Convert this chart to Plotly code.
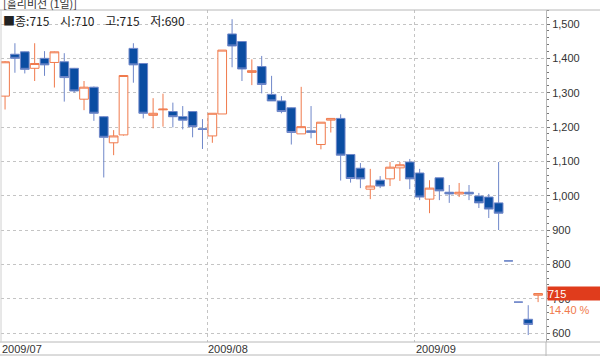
import plotly.graph_objects as go

# ---- data ----
month_labels = ["2009/07", "2009/08", "2009/09"]
month_start_idx = [0, 21, 42]

opens = [1290, 1412, 1419, 1371, 1400, 1388, 1390, 1371, 1281, 1316,
         1230, 1154, 1177, 1429, 1385, 1234, 1250, 1245, 1230, 1245,
         1195, 1174, 1238, 1471, 1449, 1359, 1376, 1295, 1276, 1256,
         1180, 1189, 1149, 1220, 1225, 1120, 1080, 1019, 1045, 1049,
         1081, 1098, 1066, 990, 1052, 1010, 1005, 1010, 999, 996,
         979, 810, 690, 640, 710]
highs = [1392, 1444, 1420, 1444, 1421, 1420, 1415, 1372, 1334, 1318,
         1232, 1191, 1350, 1444, 1386, 1284, 1297, 1271, 1261, 1246,
         1223, 1240, 1424, 1514, 1450, 1397, 1407, 1349, 1290, 1257,
         1317, 1261, 1214, 1225, 1237, 1121, 1095, 1078, 1057, 1098,
         1098, 1107, 1078, 1045, 1052, 1031, 1037, 1031, 1008, 1005,
         1098, 810, 690, 681, 715]
lows = [1251, 1358, 1356, 1334, 1349, 1315, 1274, 1300, 1249, 1218,
        1053, 1118, 1175, 1329, 1225, 1196, 1201, 1199, 1193, 1170,
        1136, 1154, 1238, 1374, 1334, 1322, 1298, 1276, 1240, 1149,
        1180, 1167, 1135, 1184, 1044, 1038, 1022, 990, 1022, 1028,
        1043, 1019, 987, 949, 987, 979, 996, 987, 964, 935,
        900, 810, 690, 594, 690]
closes = [1390, 1400, 1368, 1385, 1381, 1419, 1344, 1305, 1316, 1240,
          1170, 1174, 1350, 1381, 1240, 1240, 1252, 1230, 1220, 1201,
          1193, 1240, 1424, 1436, 1369, 1364, 1324, 1276, 1245, 1184,
          1201, 1184, 1214, 1225, 1118, 1050, 1049, 1028, 1028, 1083,
          1090, 1049, 996, 1022, 1014, 1005, 1010, 1005, 979, 961,
          949, 810, 690, 625, 715]
y_ticks = [600, 700, 800, 900, 1000, 1100, 1200, 1300, 1400, 1500]
title_text = "[홀리비전 (1일)]"

idx = list(range(len(closes)))

ORANGE = "#f07a4c"
BLUE_FILL = "#0b4da2"
BLUE_LINE = "#6f87c9"
GRID = "#c4c4c4"
FRAME = "#b8b8b8"
TXT = "#333333"
NUMFONT = "Liberation Sans, Arial, sans-serif"
KRFONT = "Noto Sans CJK KR, sans-serif"

fig = go.Figure()
fig.add_trace(go.Candlestick(
    x=idx, open=opens, high=highs, low=lows, close=closes,
    increasing=dict(line=dict(color=ORANGE, width=1), fillcolor="white"),
    decreasing=dict(line=dict(color=BLUE_LINE, width=1), fillcolor=BLUE_FILL),
    whiskerwidth=0, hoverinfo="skip", showlegend=False,
))

ML, MR, MT, MB = 1, 54, 10, 14
W, H = 600, 356
pw = W - ML - MR
ph = H - MT - MB
x0 = -0.41
x1 = 54.8

fig.update_layout(
    width=W, height=H,
    margin=dict(l=ML, r=MR, t=MT, b=MB, pad=0, autoexpand=False),
    paper_bgcolor="white", plot_bgcolor="white",
    boxgap=0.12, boxgroupgap=0,
    showlegend=False,
    hovermode=False,
    xaxis=dict(
        range=[x0, x1], rangeslider=dict(visible=False),
        tickvals=[s - 0.5 for s in month_start_idx[1:]],
        showticklabels=False, ticks="",
        showgrid=True, gridcolor=GRID, griddash="dot", gridwidth=1,
        zeroline=False, showline=False,
    ),
    yaxis=dict(
        side="right", range=[573.8, 1540.8],
        tickvals=y_ticks, tickformat=",d",
        ticks="outside", ticklen=3, tickcolor="#777",
        minor=dict(dtick=20, tick0=0, ticks="outside", ticklen=2, tickcolor="#777", showgrid=False),
        showgrid=True, gridcolor=GRID, griddash="dot", gridwidth=1,
        showline=True, linecolor=FRAME, linewidth=1,
        zeroline=False, automargin=False,
        tickfont=dict(family=NUMFONT, size=11, color=TXT),
    ),
    font=dict(family=NUMFONT, size=11, color=TXT),
)

# frame lines
xl = -ML / pw
xr = 1 + MR / pw
shapes = [
    dict(type="line", xref="paper", yref="paper", x0=xl, x1=xr, y0=1, y1=1, line=dict(color=FRAME, width=1)),
    dict(type="line", xref="paper", yref="paper", x0=xl, x1=xr, y0=0, y1=0, line=dict(color=FRAME, width=1)),
    dict(type="line", xref="paper", yref="paper", x0=xl, x1=xr, y0=-(MB - 1) / ph, y1=-(MB - 1) / ph, line=dict(color=FRAME, width=1)),
    dict(type="line", xref="paper", yref="paper", x0=1, x1=1, y0=-MB / ph, y1=0, line=dict(color=FRAME, width=1)),
    dict(type="line", xref="paper", yref="paper", x0=0, x1=0, y0=0, y1=1, line=dict(color="#d0d0d0", width=1)),
]
fig.update_layout(shapes=shapes)

ann = []
# month labels
for lab, s in zip(month_labels, month_start_idx):
    ann.append(dict(xref="x", yref="paper", x=max(s - 0.5, x0), y=-6.5 / ph, xanchor="left", yanchor="middle",
                    text=lab, showarrow=False, xshift=0, borderpad=0,
                    font=dict(family=NUMFONT, size=11, color=TXT)))
# title
ann.append(dict(xref="paper", yref="paper", x=0, y=1 + (MT - 3) / ph, xanchor="left", yanchor="middle",
                text=title_text, showarrow=False, xshift=1, borderpad=0,
                font=dict(family=KRFONT, size=11, color=TXT)))
# OHLC info
nb = "\u00a0" * 4
info = (f"■종:{closes[-1]}{nb}시:{opens[-1]}{nb}고:{highs[-1]}{nb}저:{lows[-1]}")
ann.append(dict(xref="paper", yref="paper", x=0, y=1 - 10 / ph, xanchor="left", yanchor="middle",
                text=info, showarrow=False, xshift=1, borderpad=0,
                font=dict(family=KRFONT, size=12, color="#222222")))
# last price box
ann.append(dict(xref="paper", yref="y", x=1, y=closes[-1], xanchor="left", yanchor="middle",
                text=str(closes[-1]), showarrow=False, xshift=1, width=52, height=13, align="left",
                bgcolor="#e03c1c", borderpad=0,
                font=dict(family=NUMFONT, size=11, color="white")))
pct = (closes[-1] - closes[-2]) / closes[-2] * 100
ann.append(dict(xref="paper", yref="y", x=1, y=closes[-1], xanchor="left", yanchor="middle",
                text=f"{pct:.2f} %", showarrow=False, xshift=2, yshift=-16, borderpad=0,
                font=dict(family=NUMFONT, size=11, color=ORANGE)))
fig.update_layout(annotations=ann)

fig.write_html("out.html", config={"displayModeBar": False, "staticPlot": True},
               post_script="document.body.style.margin='0';document.body.style.overflow='hidden';")
